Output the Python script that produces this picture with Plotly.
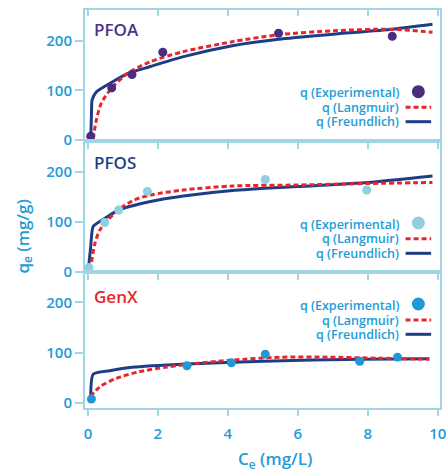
import plotly.graph_objects as go

# ---------------- data ----------------
panels = ["PFOA", "PFOS", "GenX"]

ce_pfoa = [0.08, 0.68, 1.26, 2.14, 5.45, 8.70]
qe_pfoa = [8, 105, 132, 177, 215, 209]
lang_x_pfoa = [0.15, 0.24, 0.38, 0.67, 1.13, 1.79, 2.73, 4.13, 5.45, 7.0, 8.70, 9.85]
lang_y_pfoa = [3, 40, 74, 104, 134, 158, 178, 198, 212, 220, 223, 217]
freu_x_pfoa = [0.08, 0.10, 0.12, 0.24, 0.62, 1.13, 1.79, 2.73, 4.13, 5.45, 7.0, 8.70, 9.85]
freu_y_pfoa = [4, 50, 81, 97, 114, 134, 148, 168, 190, 203, 213, 223, 233]

ce_pfos = [0.03, 0.48, 0.88, 1.70, 5.07, 7.97]
qe_pfos = [8, 98, 123, 160, 184, 163]
lang_x_pfos = [0.07, 0.2, 0.34, 0.57, 0.88, 1.32, 1.79, 2.73, 4.13, 6.0, 8.0, 9.85]
lang_y_pfos = [3, 56, 83, 103, 124, 143, 153, 163, 171, 173, 176, 178]
freu_x_pfos = [0.01, 0.08, 0.15, 0.48, 0.88, 1.79, 2.73, 4.13, 6.0, 8.0, 9.85]
freu_y_pfos = [3, 50, 90, 106, 123, 140, 151, 162, 170, 178, 191]

ce_genx = [0.10, 2.83, 4.10, 5.07, 7.77, 8.85]
qe_genx = [8, 74, 80, 97, 83, 91]
lang_x_genx = [0.07, 0.34, 0.81, 1.46, 2.21, 3.15, 4.09, 5.49, 6.9, 8.3, 9.76]
lang_y_genx = [13, 32, 49, 62, 71, 79, 85, 91, 91, 89, 87]
freu_x_genx = [0.08, 0.15, 0.62, 1.27, 2.83, 5.02, 7.83, 9.76]
freu_y_genx = [3, 57, 64, 71, 77.5, 83, 87, 88]

x_ticks = [0, 2, 4, 6, 8, 10]
y_ticks = [0, 100, 200]
legend_labels = ["q (Experimental)", "q (Langmuir)", "q (Freundlich)"]

# ---------------- styles ----------------
BLUE_TXT = "#229cd8"
FRAME = "#9fd5e4"
RED = "#e6262c"
NAVY = "#1d3e87"
exp_colors = ["#4b2d80", "#8fcfe0", "#1f99d6"]
label_colors = ["#4b3483", "#1f3f8a", "#e8262b"]
FONT = "Open Sans"

W, H = 447, 472
ML, MR, MT, MB = 85, 1, 10, 64
PW = W - ML - MR
PH = H - MT - MB

def px2paper_x(px):
    return (px - ML) / PW

def py2paper_y(py):
    return (H - MB - py) / PH

domains = [[py2paper_y(140.5), 1.0], [py2paper_y(272.3), py2paper_y(140.5)], [0.0, py2paper_y(272.3)]]
yranges = [[-0.8, 261.8], [-1.6, 262.0], [-9.9, 259.6]]
xrange_ = [-0.084, 10.065]

data_sets = [
    (ce_pfoa, qe_pfoa, lang_x_pfoa, lang_y_pfoa, freu_x_pfoa, freu_y_pfoa),
    (ce_pfos, qe_pfos, lang_x_pfos, lang_y_pfos, freu_x_pfos, freu_y_pfos),
    (ce_genx, qe_genx, lang_x_genx, lang_y_genx, freu_x_genx, freu_y_genx),
]

fig = go.Figure()
for i, (cx, cy, lx, ly, fx, fy) in enumerate(data_sets):
    xa = "x" if i == 0 else f"x{i+1}"
    ya = "y" if i == 0 else f"y{i+1}"
    fig.add_trace(go.Scatter(x=fx, y=fy, mode="lines", xaxis=xa, yaxis=ya,
                             line=dict(color=NAVY, width=3, shape="spline", smoothing=0.6),
                             name=legend_labels[2], hoverinfo="skip"))
    fig.add_trace(go.Scatter(x=lx, y=ly, mode="lines", xaxis=xa, yaxis=ya,
                             line=dict(color=RED, width=3, dash="5px,3px", shape="spline", smoothing=0.8),
                             name=legend_labels[1], hoverinfo="skip"))
    fig.add_trace(go.Scatter(x=cx, y=cy, mode="markers", xaxis=xa, yaxis=ya,
                             marker=dict(color=exp_colors[i], size=9),
                             name=legend_labels[0]))

tickfont = dict(family=FONT, size=15, color=BLUE_TXT, weight=600)
common_x = dict(range=xrange_, tickvals=x_ticks, ticks="outside", ticklen=6, tickwidth=2,
                tickcolor=FRAME, showline=True, linecolor=FRAME, linewidth=2, mirror=True,
                showgrid=False, zeroline=False, tickfont=tickfont, ticklabeloverflow="allow",
                ticklabelstandoff=5)
common_y = dict(tickvals=y_ticks, ticks="outside", ticklen=8, tickwidth=2, tickcolor=FRAME,
                showline=True, linecolor=FRAME, linewidth=2, mirror=True, showgrid=False,
                zeroline=False, tickfont=tickfont)

layout = dict(width=W, height=H, margin=dict(l=ML, r=MR, t=MT, b=MB),
              paper_bgcolor="white", plot_bgcolor="white", showlegend=False)
for i in range(3):
    xk = "xaxis" if i == 0 else f"xaxis{i+1}"
    yk = "yaxis" if i == 0 else f"yaxis{i+1}"
    ya = "y" if i == 0 else f"y{i+1}"
    xa = "x" if i == 0 else f"x{i+1}"
    layout[xk] = dict(common_x, anchor=ya, domain=[0, 1], showticklabels=(i == 2))
    layout[yk] = dict(common_y, anchor=xa, domain=domains[i], range=yranges[i])
# inward ticks on the very top border
layout["xaxis4"] = dict(overlaying="x", side="top", anchor="y", range=xrange_, tickvals=x_ticks,
                        ticks="inside", ticklen=6, tickwidth=2, tickcolor=FRAME,
                        showticklabels=False, showline=False, showgrid=False, zeroline=False)
fig.update_layout(**layout)
fig.add_trace(go.Scatter(x=[None], y=[None], xaxis="x4", yaxis="y", showlegend=False, hoverinfo="skip"))

annotations = []
shapes = []
label_y = [29.7, 162, 296]
legend_rows = [[92.7, 107.3, 121.7], [224, 238.7, 253.3], [305, 320, 334.3]]
for i in range(3):
    annotations.append(dict(text=panels[i], xref="paper", yref="paper",
                            x=px2paper_x(92), y=py2paper_y(label_y[i]), xanchor="left", yanchor="middle",
                            showarrow=False, font=dict(family=FONT, size=17, color=label_colors[i], weight=600)))
    for j, lab in enumerate(legend_labels):
        annotations.append(dict(text=lab, xref="paper", yref="paper",
                                x=px2paper_x(406), y=py2paper_y(legend_rows[i][j]), xanchor="right", yanchor="middle",
                                showarrow=False, font=dict(family=FONT, size=12.5, color=BLUE_TXT, weight=600)))
    r = legend_rows[i]
    shapes.append(dict(type="circle", xref="paper", yref="paper", xsizemode="pixel", ysizemode="pixel",
                       xanchor=px2paper_x(424), yanchor=py2paper_y(r[0] - 1),
                       x0=-6.5, x1=6.5, y0=-6.5, y1=6.5, fillcolor=exp_colors[i], line=dict(width=0)))
    shapes.append(dict(type="line", xref="paper", yref="paper", x0=px2paper_x(411), x1=px2paper_x(437),
                       y0=py2paper_y(r[1]), y1=py2paper_y(r[1]), line=dict(color=RED, width=3, dash="5px,3px")))
    shapes.append(dict(type="line", xref="paper", yref="paper", x0=px2paper_x(411), x1=px2paper_x(437),
                       y0=py2paper_y(r[2]), y1=py2paper_y(r[2]), line=dict(color=NAVY, width=3)))

annotations.append(dict(text="q<sub>e</sub> (mg/g)", xref="paper", yref="paper",
                        x=px2paper_x(21.5), y=py2paper_y(237), xanchor="center", yanchor="middle",
                        textangle=-90, showarrow=False,
                        font=dict(family=FONT, size=17, color=BLUE_TXT, weight=600)))
annotations.append(dict(text="C<sub>e</sub> (mg/L)", xref="paper", yref="paper",
                        x=px2paper_x(278), y=py2paper_y(460), xanchor="center", yanchor="middle",
                        showarrow=False, font=dict(family=FONT, size=17, color=BLUE_TXT, weight=600)))

fig.update_layout(annotations=annotations, shapes=shapes)
fig.write_html("out.html", config={"displayModeBar": False},
               post_script="document.body.style.margin='0';document.body.style.overflow='hidden';")
